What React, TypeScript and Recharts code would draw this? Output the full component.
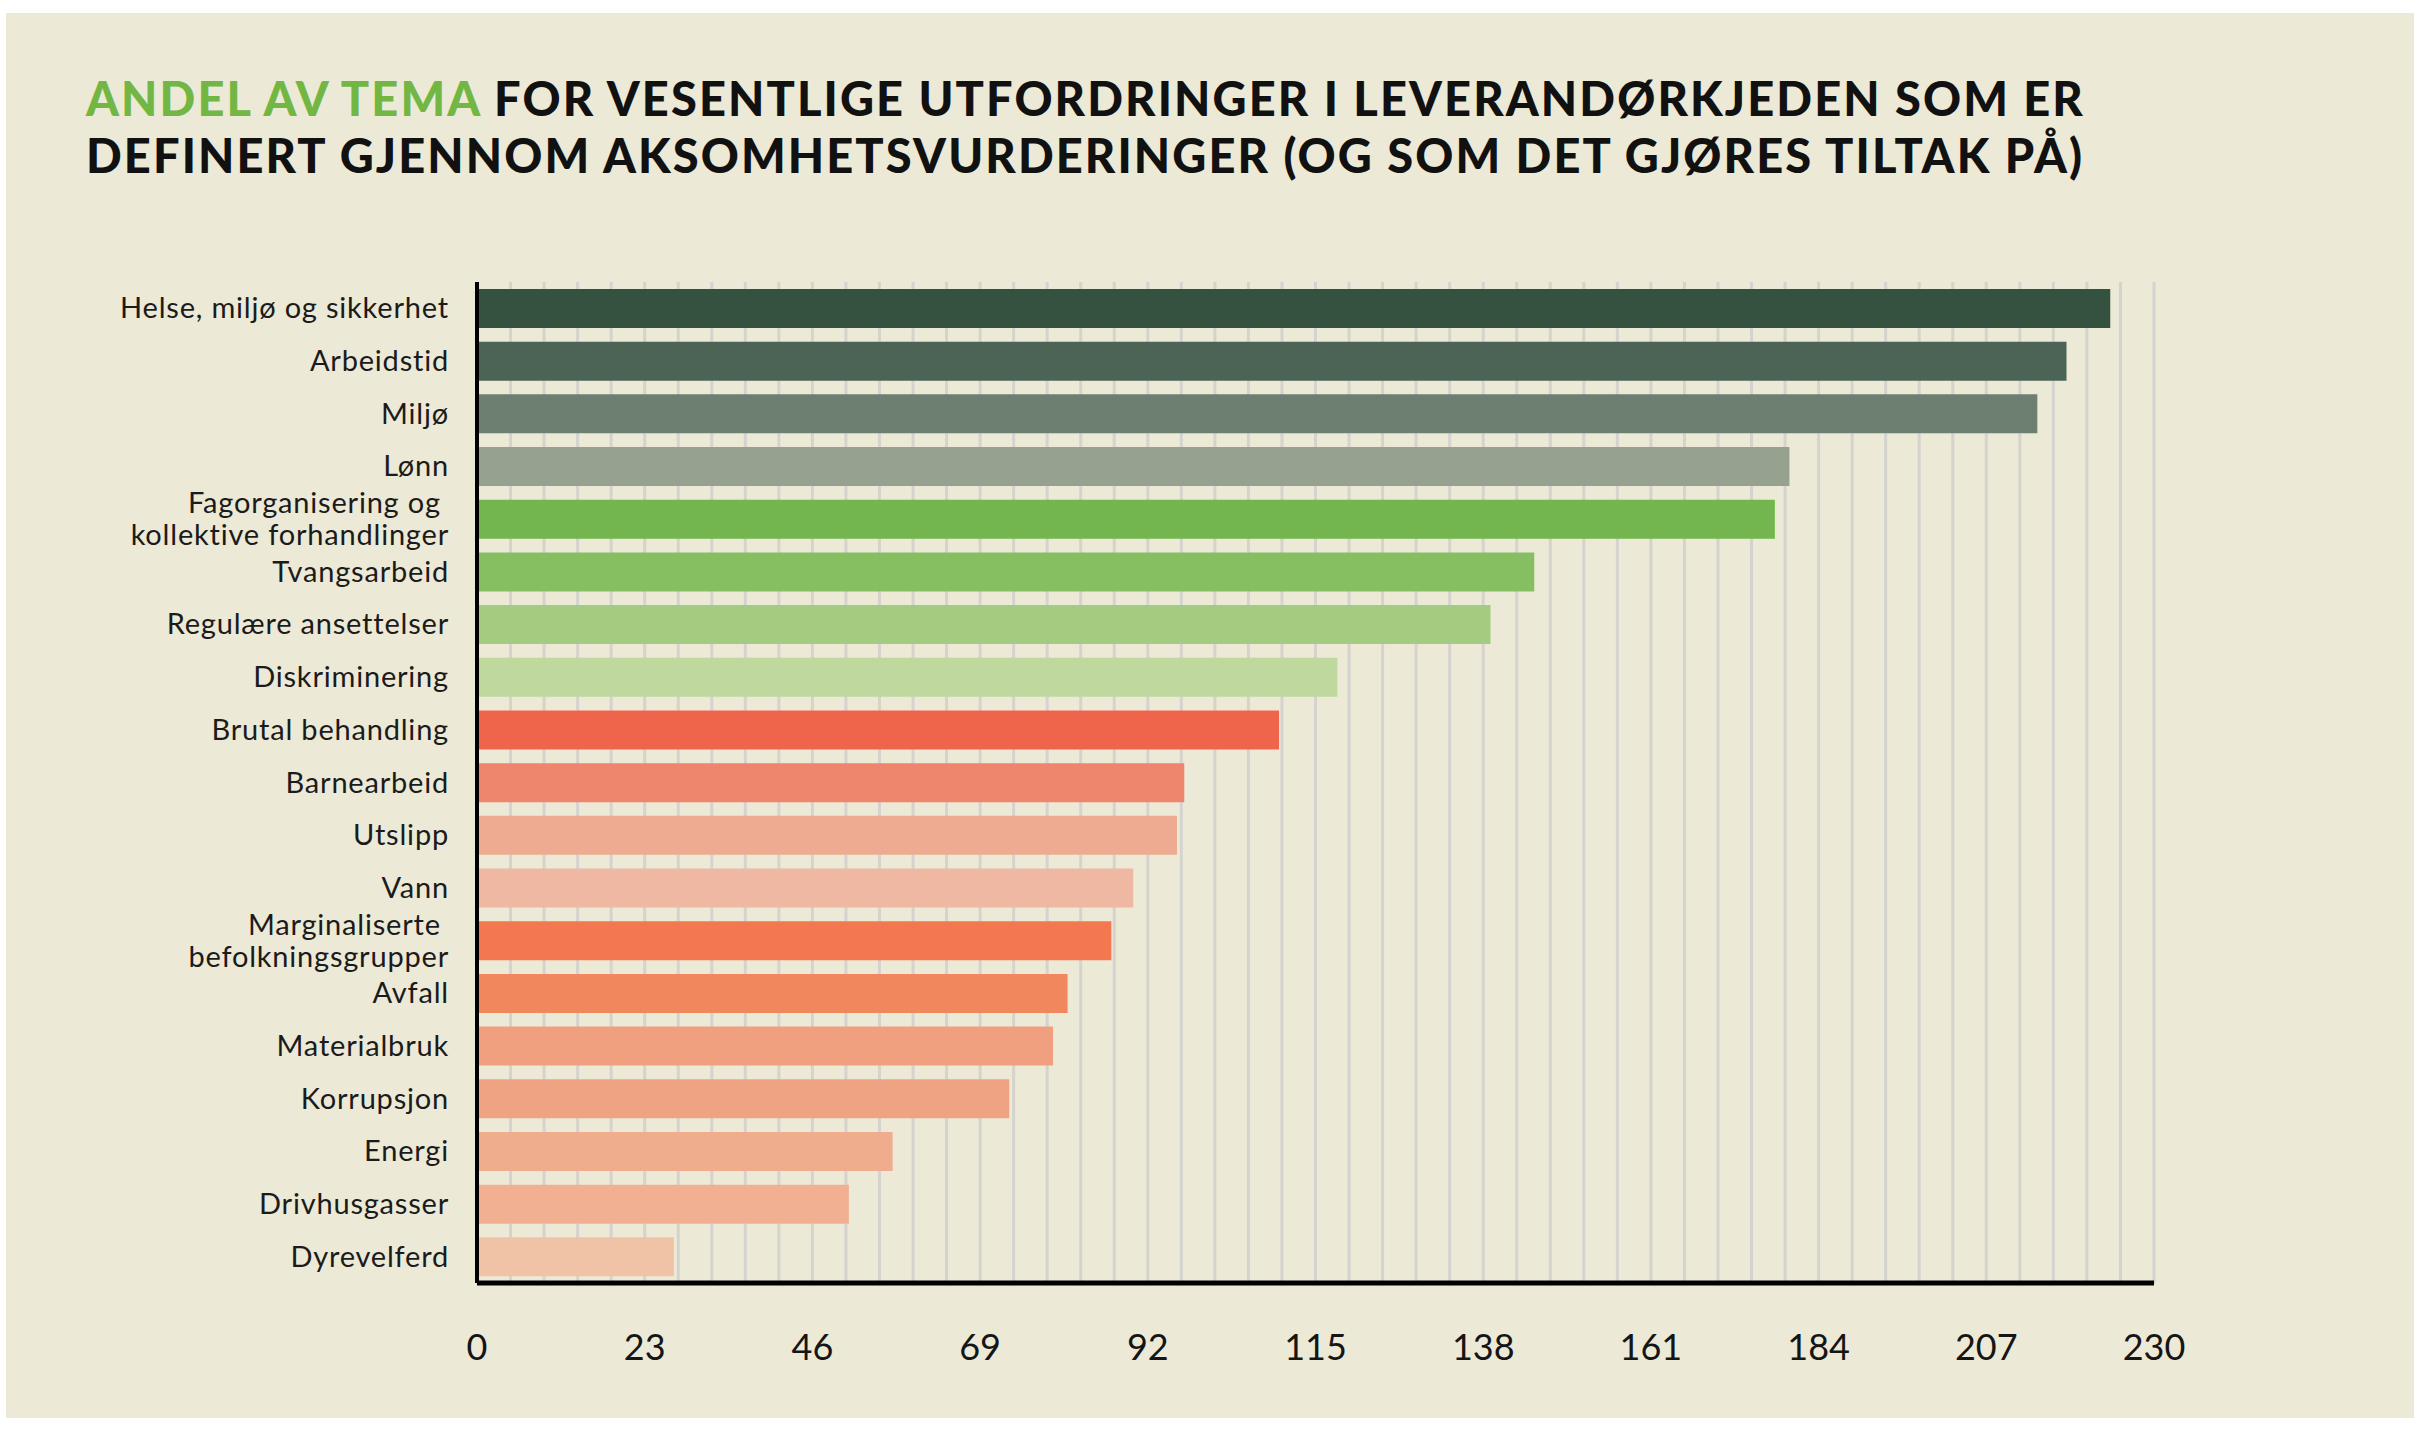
import React from 'react';
import { BarChart, Bar, XAxis, YAxis, CartesianGrid, Cell } from 'recharts';

// themes, top to bottom (line breaks as in the source)
const categories = [
  'Helse, miljø og sikkerhet',
  'Arbeidstid',
  'Miljø',
  'Lønn',
  'Fagorganisering og \nkollektive forhandlinger',
  'Tvangsarbeid',
  'Regulære ansettelser',
  'Diskriminering',
  'Brutal behandling',
  'Barnearbeid',
  'Utslipp',
  'Vann',
  'Marginaliserte \nbefolkningsgrupper',
  'Avfall',
  'Materialbruk',
  'Korrupsjon',
  'Energi',
  'Drivhusgasser',
  'Dyrevelferd',
];

const values = [224, 218, 214, 180, 178, 145, 139, 118, 110, 97, 96, 90, 87, 81, 79, 73, 57, 51, 27];

const xTicks = [0, 23, 46, 69, 92, 115, 138, 161, 184, 207, 230];

const barColors = [
  '#35513F', '#4C6455', '#6D7F70', '#96A18F',
  '#73B54E', '#86BF62', '#A3CC81', '#BED89E',
  '#EF654B', '#EE856D', '#EEAB91', '#EEB8A3',
  '#F3784F', '#F1885D', '#F0A07F', '#F0A383', '#F0AD8E', '#F1B092', '#F0C2A6',
];

const data = categories.map((name, i) => ({ name, value: values[i] }));

// grid every fifth of a tick step
const gridValues = Array.from({ length: 51 }, (_, i) => (i * 230) / 50);

const FONT = 'Lato, "Noto Sans", sans-serif';

const CategoryTick = (props: any) => {
  const { x, y, payload } = props;
  const lines = String(payload.value).split('\n');
  const lh = 32;
  const first = -((lines.length - 1) * lh) / 2 + 10;
  return (
    <text
      x={x}
      y={y}
      textAnchor="end"
      fill="#1b1b1b"
      fontSize={29}
      fontFamily={FONT}
      style={{ whiteSpace: 'pre', letterSpacing: 0.8 }}
    >
      {lines.map((line, i) => (
        <tspan key={i} x={x} dy={i === 0 ? first : lh}>
          {line}
        </tspan>
      ))}
    </text>
  );
};

export default function App() {
  return (
    <div style={{ position: 'absolute', left: 0, top: 0, width: 2414, height: 1430, background: '#fff' }}>
      <div style={{ position: 'absolute', left: 6, top: 13, width: 2408, height: 1405, background: '#ECE9D6' }} />
      <div
        style={{
          position: 'absolute',
          left: 86,
          top: 70,
          fontFamily: FONT,
          fontWeight: 900,
          fontSize: 47,
          lineHeight: '57px',
          color: '#111',
          letterSpacing: 2.1,
          whiteSpace: 'nowrap',
        }}
      >
        <span style={{ color: '#72B644' }}>ANDEL AV TEMA</span> FOR VESENTLIGE UTFORDRINGER I LEVERANDØRKJEDEN SOM ER
        <br />
        DEFINERT GJENNOM AKSOMHETSVURDERINGER (OG SOM DET GJØRES TILTAK PÅ)
      </div>
      <div style={{ position: 'absolute', left: 0, top: 0 }}>
        <BarChart
          width={2414}
          height={1430}
          data={data}
          layout="vertical"
          margin={{ top: 282, right: 260, bottom: 0, left: 0 }}
        >
          <CartesianGrid horizontal={false} verticalValues={gridValues} stroke="#D4D3CE" strokeWidth={3} />
          <XAxis
            type="number"
            domain={[0, 230]}
            ticks={xTicks}
            interval={0}
            tickLine={false}
            tickSize={0}
            tickMargin={51}
            height={147}
            axisLine={{ stroke: '#000', strokeWidth: 5 }}
            tick={{ fontSize: 36, fill: '#151515', fontFamily: FONT }}
          />
          <YAxis
            type="category"
            dataKey="name"
            width={477}
            interval={0}
            tickLine={false}
            tickSize={0}
            tickMargin={28}
            axisLine={{ stroke: '#000', strokeWidth: 4 }}
            tick={<CategoryTick />}
          />
          <Bar dataKey="value" barSize={39} isAnimationActive={false}>
            {data.map((d, i) => (
              <Cell key={d.name} fill={barColors[i]} />
            ))}
          </Bar>
        </BarChart>
      </div>
    </div>
  );
}
